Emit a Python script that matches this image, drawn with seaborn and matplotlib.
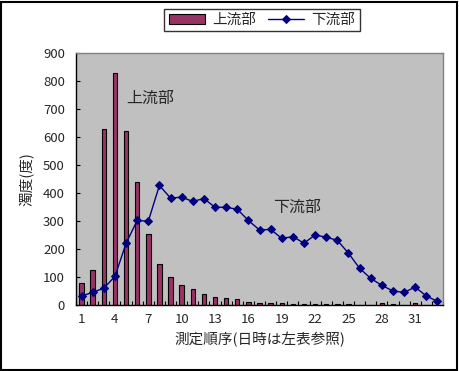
import numpy as np
import pandas as pd
import matplotlib
matplotlib.use("Agg")
import matplotlib.pyplot as plt
import seaborn as sns
from matplotlib.patches import Rectangle

# measurement order 1..33
order = list(range(1, 34))
upstream = [78, 125, 630, 827, 621, 438, 253, 145, 99, 71,
            57, 38, 29, 25, 21, 10, 6, 6, 6, 3,
            3, 3, 2, 2, 2, 0, 0, 8, 5, 0,
            8, 0, 0]
downstream = [32, 45, 60, 102, 220, 302, 299, 427, 382, 385,
              370, 380, 349, 349, 342, 302, 268, 270, 238, 244,
              221, 250, 242, 231, 185, 131, 95, 70, 50, 45,
              64, 32, 13]
label_up = "上流部"
label_down = "下流部"

sns.set_style("white")
plt.rcParams["font.family"] = ["Noto Sans CJK JP", "DejaVu Sans"]

df = pd.DataFrame({"order": order, "up": upstream, "down": downstream})
df["pos"] = np.arange(len(df))

fig = plt.figure(figsize=(4.59, 3.71), dpi=100)
ax = fig.add_axes([76 / 459, 1 - 305 / 371, (443 - 76) / 459, (305 - 53) / 371])
ax.set_facecolor("#C0C0C0")

sns.barplot(data=df, x="order", y="up", ax=ax, color="#993366", width=0.4,
            edgecolor="black", linewidth=0.8, saturation=1, label=label_up)
sns.lineplot(data=df, x="pos", y="down", ax=ax, color="#000080", marker="D",
             markersize=4.5, markeredgecolor="#000080", linewidth=1, sort=False,
             label=label_down)

ax.set_xlim(-0.5, len(order) - 0.5)
ax.set_ylim(0, 900)
ax.set_yticks(range(0, 901, 100))
ax.set_xticks(df["pos"][::3])
ax.set_xticklabels([str(o) for o in order[::3]])
ax.set_xticks(np.arange(-0.5, len(order), 1), minor=True)
ax.tick_params(axis="x", which="major", length=0, labelsize=9.5, pad=6)
ax.tick_params(axis="x", which="minor", direction="in", length=3, width=0.8, color="black", bottom=True)
ax.tick_params(axis="y", direction="in", length=3, width=0.8, color="black", left=True, labelsize=9.5, pad=8)

for s in ["top", "right"]:
    ax.spines[s].set_color("#808080")
for s in ["left", "bottom"]:
    ax.spines[s].set_color("black")
for s in ax.spines.values():
    s.set_linewidth(1)

ax.set_xlabel("測定順序(日時は左表参照)", fontsize=10.5, labelpad=4)
ax.set_ylabel("濁度(度)", fontsize=10.5, labelpad=6)

ax.text(6.2, 740, label_up, fontsize=11.5, ha="center", va="center")
ax.text(19.4, 350, label_down, fontsize=11.5, ha="center", va="center")

# bars first, then the line, as in the original legend
handles, labels = ax.get_legend_handles_labels()
ax.get_legend().remove()
pairs = dict(zip(labels, handles))
leg = fig.legend([pairs[label_up], pairs[label_down]], [label_up, label_down],
                 loc="center", bbox_to_anchor=(262 / 459, 0.946), ncol=2,
                 frameon=True, fancybox=False, edgecolor="black", fontsize=10.5,
                 handlelength=2.5, columnspacing=0.8, handletextpad=0.5,
                 borderpad=0.3)
leg.get_frame().set_linewidth(1)

fig.patches.append(Rectangle((0.5 / 459, 1.5 / 371), 456 / 459, 368 / 371,
                             transform=fig.transFigure, fill=False,
                             edgecolor="black", linewidth=1.5))

fig.savefig("out.png", dpi=100)
